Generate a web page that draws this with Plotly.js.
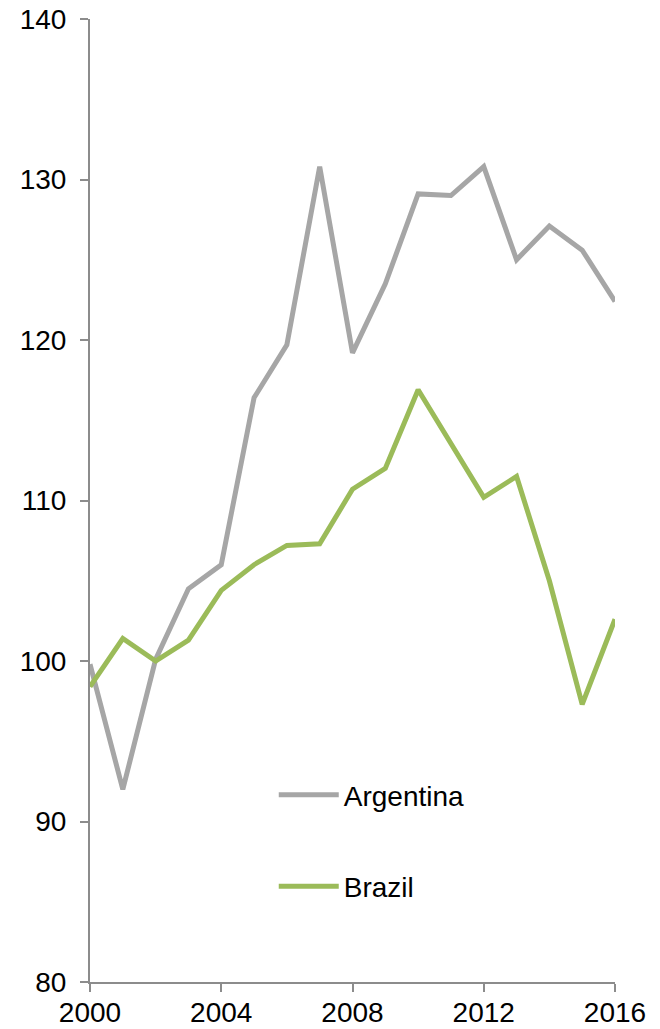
<!DOCTYPE html>
<html>
<head>
<meta charset="utf-8">
<script src="https://cdn.plot.ly/plotly-3.0.1.min.js"></script>
<style>html,body{margin:0;padding:0;background:#fff;}#chart{width:660px;height:1029px;}</style>
</head>
<body>
<div id="chart"></div>
<script>
const years = [2000,2001,2002,2003,2004,2005,2006,2007,2008,2009,2010,2011,2012,2013,2014,2015,2016];
const argentina = [99.8,92.0,100.1,104.5,106.0,116.4,119.7,130.8,119.2,123.5,129.1,129.0,130.8,125.0,127.1,125.6,122.4];
const brazil = [98.4,101.4,100.0,101.3,104.4,106.0,107.2,107.3,110.7,112.0,116.9,113.5,110.2,111.5,105.0,97.3,102.6];
const xTicks = [2000,2004,2008,2012,2016];
const yTicks = [80,90,100,110,120,130,140];

const traces = [
  {x: years, y: argentina, name: 'Argentina', type: 'scatter', mode: 'lines', legendgroup: 'a',
   line: {color: '#a6a6a6', width: 5}, cliponaxis: false},
  {x: years, y: brazil, name: 'Brazil', type: 'scatter', mode: 'lines', legendgroup: 'b',
   line: {color: '#9bbb59', width: 5}, cliponaxis: false}
];
const layout = {
  width: 660, height: 1029,
  margin: {l: 90, r: 45, t: 19, b: 47},
  paper_bgcolor: '#fff', plot_bgcolor: '#fff',
  font: {family: 'Liberation Sans, Arial, sans-serif', size: 28, color: '#000'},
  xaxis: {range: [2000, 2016], tickvals: xTicks, ticktext: xTicks.map(String),
    showgrid: false, zeroline: false, showline: true, linecolor: '#8c8c8c', linewidth: 2,
    ticks: 'outside', ticklen: 8, tickwidth: 2, tickcolor: '#8c8c8c', tickfont: {size: 28},
    ticklabelstandoff: -4},
  yaxis: {range: [80, 140], tickvals: yTicks, ticktext: yTicks.map(String),
    showgrid: false, zeroline: false, showline: true, linecolor: '#8c8c8c', linewidth: 2,
    ticks: 'outside', ticklen: 8, tickwidth: 2, tickcolor: '#8c8c8c', tickfont: {size: 28},
    ticklabelstandoff: 8},
  showlegend: true,
  legend: {x: 0.35, y: 0.22, xanchor: 'left', yanchor: 'top', bgcolor: 'rgba(0,0,0,0)',
    font: {size: 28}, tracegroupgap: 52, itemwidth: 60}
};
Plotly.newPlot('chart', traces, layout, {displayModeBar: false, staticPlot: true});
</script>
</body>
</html>
